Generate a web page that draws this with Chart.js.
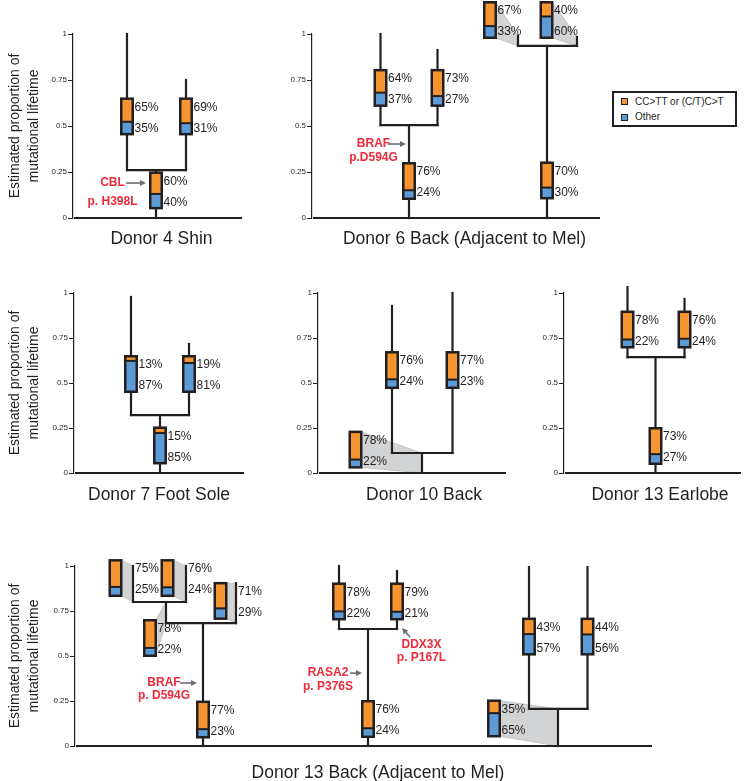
<!DOCTYPE html>
<html>
<head>
<meta charset="utf-8">
<script src="https://cdn.jsdelivr.net/npm/chart.js@4.4.1/dist/chart.umd.min.js"></script>
<style>
  html, body { margin: 0; padding: 0; background: #fff; }
  body { position: relative; width: 744px; height: 781px; overflow: hidden; font-family: "Liberation Sans", Arial, sans-serif; }
  canvas { position: absolute; }
  #legend { position: absolute; left: 612px; top: 91px; width: 121px; height: 32px; border: 2px solid #231F20; background: #fff; font-size: 10px; color: #231F20; }
  #legend .sw { position: absolute; left: 7px; width: 5px; height: 5px; border: 1.5px solid #231F20; }
  #legend .tx { position: absolute; left: 21px; line-height: 12px; white-space: nowrap; }
</style>
</head>
<body>
<canvas id="shin"></canvas>
<canvas id="back6"></canvas>
<canvas id="sole"></canvas>
<canvas id="back10"></canvas>
<canvas id="ear"></canvas>
<canvas id="back13"></canvas>
<div id="legend">
  <span class="sw" style="top:5px;background:#F69432"></span><span class="tx" id="lg0" style="top:2.5px"></span>
  <span class="sw" style="top:20.5px;background:#5C9BD5"></span><span class="tx" id="lg1" style="top:18px"></span>
</div>
<script>
// ---- values ----
// per tree: parent of each branch (-1 = trunk), height the branch reaches
// (proportion of mutational lifetime), CC>TT share and Other share (%)
const shinParent = [-1, 0, 0];
const shinEnd = [0.26, 1, 0.75];
const shinCT = [60, 65, 69];
const shinOther = [40, 35, 31];
const shinMut = ['CBL', 'p. H398L'];

const back6Parent = [-1, 0, 0, -1, 3, 3];
const back6End = [0.505, 1, 0.913, 0.935, 0.99, 0.984];
const back6CT = [76, 64, 73, 70, 67, 40];
const back6Other = [24, 37, 27, 30, 33, 60];
const back6Mut = ['BRAF', 'p.D594G'];

const soleParent = [-1, 0, 0];
const soleEnd = [0.322, 0.978, 0.717];
const soleCT = [15, 13, 19];
const soleOther = [85, 87, 81];

const back10Parent = [-1, 0, 0];
const back10End = [0.111, 0.928, 1];
const back10CT = [78, 76, 77];
const back10Other = [22, 24, 23];

const earParent = [-1, 0, 0];
const earEnd = [0.644, 1.033, 0.967];
const earCT = [73, 78, 76];
const earOther = [27, 22, 24];

const back13Parent = [-1, 0, 0, 1, 1, -1, 5, 5, -1, 8, 8];
const back13End = [0.683, 0.80, 0.905, 1, 1, 0.65, 1, 0.972, 0.206, 0.994, 0.994];
const back13CT = [77, 78, 71, 75, 76, 76, 78, 79, 35, 43, 44];
const back13Other = [23, 22, 29, 25, 24, 24, 22, 21, 65, 57, 56];
const back13Mut = [['BRAF', 'p. D594G'], ['RASA2', 'p. P376S'], ['DDX3X', 'p. P167L']];

const yTicks = [0, 0.25, 0.5, 0.75, 1];
const yTickLabels = ['0', '0.25', '0.5', '0.75', '1'];
const legendLabels = ['CC>TT or (C/T)C>T', 'Other'];

// ---- layout (branch x in panel units, box centres, note positions) ----
const shinLayout = {
  x: [83, 54, 113], boxY: [0.15, 0.552, 0.552],
  notes: [{ text: shinMut, cx: 39.5, ys: [0.19, 0.087], from: [53, 0.19], to: [73, 0.19] }]
};
const back6Layout = {
  x: [97, 68.5, 125.5, 235, 206, 265], boxY: [0.201, 0.707, 0.707, 0.204, 1.076, 1.076],
  boxX: [null, null, null, null, 178, 234.5],
  notes: [{ text: back6Mut, cx: 61.5, ys: [0.402, 0.326], from: [76, 0.402], to: [94, 0.402] }]
};
const soleLayout = { x: [86, 57, 115], boxY: [0.153, 0.55, 0.55] };
const back10Layout = { x: [104, 74, 134.5], boxY: [0.13, 0.572, 0.572], boxX: [37.5, null, null] };
const earLayout = { x: [91.5, 63.5, 120.5], boxY: [0.15, 0.797, 0.797] };
const back13Layout = {
  x: [128, 91, 161, 58, 111, 293, 264, 322, 483, 454, 512.5],
  boxY: [0.147, 0.60, 0.806, 0.933, 0.933, 0.15, 0.803, 0.803, 0.153, 0.608, 0.608],
  boxX: [null, 75, 145.5, 40.5, 92.5, null, null, null, 419, null, null],
  labelAfter: [false, false, true, true, true],
  notes: [
    { text: back13Mut[0], cx: 89, ys: [0.35, 0.278], from: [105, 0.35], to: [122, 0.35] },
    { text: back13Mut[1], cx: 253, ys: [0.405, 0.328], from: [275, 0.405], to: [287, 0.405] },
    { text: back13Mut[2], cx: 346.5, ys: [0.561, 0.489], from: [335, 0.606], to: [327, 0.656] }
  ]
};

const INK = '#231F20', ORANGE = '#F69432', BLUE = '#5C9BD5', FAN = '#D1D3D4', RED = '#EE2A3B', ARROW = '#6D6E71';
const FONT = '"Liberation Sans", Arial, sans-serif';
const BOX_W = 11.5, BOX_H = 35.5, BOX_LW = 2.5;
const TITLE_SIZE = 17.5;

Chart.defaults.font.family = FONT;
Chart.defaults.color = INK;

document.getElementById('lg0').textContent = legendLabels[0];
document.getElementById('lg1').textContent = legendLabels[1];

function treeDatasets(parent, end, layout, baseEnd) {
  const seg = pts => ({
    data: pts, showLine: true, borderColor: INK, borderWidth: 2.2, pointRadius: 0,
    borderCapStyle: 'square', clip: false, fill: false
  });
  const sets = [Object.assign(seg([{ x: 1, y: 0 }, { x: baseEnd, y: 0 }]), { borderWidth: 2, borderCapStyle: 'butt' })];
  parent.forEach((p, i) => {
    const from = p < 0 ? 0 : end[p];
    sets.push(seg([{ x: layout.x[i], y: from }, { x: layout.x[i], y: end[i] }]));
  });
  parent.forEach((_, i) => {
    const kids = parent.map((p, k) => p === i ? layout.x[k] : null).filter(v => v !== null);
    if (kids.length) sets.push(seg([{ x: Math.min(...kids), y: end[i] }, { x: Math.max(...kids), y: end[i] }]));
  });
  return sets;
}

function treePlugin(parent, end, ct, other, layout) {
  const zoomed = i => !!layout.boxX && layout.boxX[i] != null;
  const boxX = i => zoomed(i) ? layout.boxX[i] : layout.x[i];
  return {
    id: 'tree',
    beforeDatasetsDraw(chart) {
      const { ctx, scales: { x, y } } = chart;
      ctx.save();
      ctx.fillStyle = FAN;
      ctx.strokeStyle = '#BCBEC0';
      ctx.lineWidth = 0.8;
      parent.forEach((p, i) => {
        if (!zoomed(i)) return;
        const right = x.getPixelForValue(boxX(i)) + BOX_W / 2;
        const cy = y.getPixelForValue(layout.boxY[i]);
        const bx = x.getPixelForValue(layout.x[i]);
        ctx.beginPath();
        ctx.moveTo(right, cy - BOX_H / 2);
        ctx.lineTo(bx, y.getPixelForValue(end[i]));
        ctx.lineTo(bx, y.getPixelForValue(p < 0 ? 0 : end[p]));
        ctx.lineTo(right, cy + BOX_H / 2);
        ctx.closePath();
        ctx.fill();
        ctx.stroke();
      });
      ctx.restore();
    },
    afterDatasetsDraw(chart) {
      const { ctx, scales: { x, y } } = chart;
      ctx.save();
      parent.forEach((p, i) => {
        const cx = x.getPixelForValue(boxX(i)), cy = y.getPixelForValue(layout.boxY[i]);
        const l = cx - BOX_W / 2, t = cy - BOX_H / 2;
        const split = t + BOX_H * ct[i] / (ct[i] + other[i]);
        ctx.fillStyle = ORANGE;
        ctx.fillRect(l, t, BOX_W, split - t);
        ctx.fillStyle = BLUE;
        ctx.fillRect(l, split, BOX_W, t + BOX_H - split);
        ctx.strokeStyle = INK;
        ctx.lineWidth = 2;
        ctx.beginPath();
        ctx.moveTo(l, split);
        ctx.lineTo(l + BOX_W, split);
        ctx.stroke();
        ctx.lineWidth = BOX_LW;
        ctx.strokeRect(l, t, BOX_W, BOX_H);

        const after = layout.labelAfter && layout.labelAfter[i];
        const lx = after ? x.getPixelForValue(layout.x[i]) + 2 : cx + BOX_W / 2 + BOX_LW / 2 + 0.5;
        ctx.fillStyle = INK;
        ctx.font = '12px ' + FONT;
        ctx.textAlign = 'left';
        ctx.textBaseline = 'middle';
        ctx.fillText(ct[i] + '%', lx, cy - 9);
        ctx.fillText(other[i] + '%', lx, cy + 12);
      });

      (layout.notes || []).forEach(n => {
        const x0 = x.getPixelForValue(n.from[0]), y0 = y.getPixelForValue(n.from[1]);
        const x1 = x.getPixelForValue(n.to[0]), y1 = y.getPixelForValue(n.to[1]);
        const a = Math.atan2(y1 - y0, x1 - x0);
        const hx = x1 - 6 * Math.cos(a), hy = y1 - 6 * Math.sin(a);
        ctx.strokeStyle = ARROW;
        ctx.fillStyle = ARROW;
        ctx.lineWidth = 1.6;
        ctx.beginPath();
        ctx.moveTo(x0, y0);
        ctx.lineTo(hx, hy);
        ctx.stroke();
        ctx.beginPath();
        ctx.moveTo(x1, y1);
        ctx.lineTo(hx + 3 * Math.sin(a), hy - 3 * Math.cos(a));
        ctx.lineTo(hx - 3 * Math.sin(a), hy + 3 * Math.cos(a));
        ctx.closePath();
        ctx.fill();

        ctx.fillStyle = RED;
        ctx.font = 'bold 12px ' + FONT;
        ctx.textAlign = 'center';
        ctx.textBaseline = 'middle';
        n.text.forEach((s, k) => ctx.fillText(s, x.getPixelForValue(n.cx), y.getPixelForValue(n.ys[k])));
      });
      ctx.restore();
    }
  };
}

function makePanel(id, g, parent, end, ct, other, layout) {
  const canvas = document.getElementById(id);
  const plotH = g.y0 - g.y1;
  const xAxisH = g.titleY - g.y0 + TITLE_SIZE * 1.2 / 2;
  const h = Math.ceil(g.padT + plotH + xAxisH);
  const w = g.right - g.axisX + g.yW;
  canvas.width = w;
  canvas.height = h;
  canvas.style.left = (g.axisX - g.yW) + 'px';
  canvas.style.top = (g.y1 - g.padT) + 'px';

  new Chart(canvas, {
    type: 'scatter',
    data: { datasets: treeDatasets(parent, end, layout, g.baseEnd) },
    options: {
      responsive: false,
      animation: false,
      events: [],
      layout: { autoPadding: false, padding: { top: g.padT, bottom: h - g.padT - plotH - xAxisH, left: 0, right: 0 } },
      plugins: { legend: { display: false }, tooltip: { enabled: false } },
      scales: {
        x: {
          type: 'linear', min: 0, max: g.right - g.axisX,
          ticks: { display: false },
          grid: { display: false },
          border: { display: false },
          title: { display: true, text: g.title, color: INK, font: { size: TITLE_SIZE, lineHeight: 1.2 }, padding: 0 },
          afterFit: s => { s.height = xAxisH; }
        },
        y: {
          type: 'linear', min: 0, max: 1,
          afterBuildTicks: s => { s.ticks = yTicks.map(v => ({ value: v })); },
          ticks: { font: { size: 8 }, color: INK, padding: 1, callback: (v, i) => yTickLabels[i] },
          grid: { drawOnChartArea: false, drawTicks: true, tickLength: 5, color: INK, lineWidth: 1 },
          border: { display: true, dash: [3, 3], color: INK, width: 1.2 },
          title: {
            display: !!g.yTitle, text: ['Estimated proportion of', 'mutational lifetime'],
            color: INK, font: { size: 14, lineHeight: 1.35 }, padding: { top: 6, bottom: 0 }
          },
          afterFit: s => { s.width = g.yW; }
        }
      }
    },
    plugins: [treePlugin(parent, end, ct, other, layout)]
  });
}

makePanel('shin', { axisX: 73, y1: 34, y0: 218, right: 250, yW: 73, padT: 34, titleY: 239, baseEnd: 169, title: 'Donor 4 Shin', yTitle: true },
  shinParent, shinEnd, shinCT, shinOther, shinLayout);
makePanel('back6', { axisX: 312, y1: 34, y0: 218, right: 617, yW: 40, padT: 34, titleY: 239, baseEnd: 288, title: 'Donor 6 Back (Adjacent to Mel)' },
  back6Parent, back6End, back6CT, back6Other, back6Layout);
makePanel('sole', { axisX: 74, y1: 293, y0: 473, right: 244, yW: 74, padT: 30, titleY: 495.5, baseEnd: 173, title: 'Donor 7 Foot Sole', yTitle: true },
  soleParent, soleEnd, soleCT, soleOther, soleLayout);
makePanel('back10', { axisX: 318, y1: 293, y0: 473, right: 530, yW: 40, padT: 30, titleY: 495.5, baseEnd: 188, title: 'Donor 10 Back' },
  back10Parent, back10End, back10CT, back10Other, back10Layout);
makePanel('ear', { axisX: 564, y1: 293, y0: 473, right: 756, yW: 40, padT: 30, titleY: 495.5, baseEnd: 177, title: 'Donor 13 Earlobe' },
  earParent, earEnd, earCT, earOther, earLayout);
makePanel('back13', { axisX: 75, y1: 566, y0: 746, right: 681, yW: 75, padT: 30, titleY: 773, baseEnd: 577, title: 'Donor 13 Back (Adjacent to Mel)', yTitle: true },
  back13Parent, back13End, back13CT, back13Other, back13Layout);
</script>
</body>
</html>
